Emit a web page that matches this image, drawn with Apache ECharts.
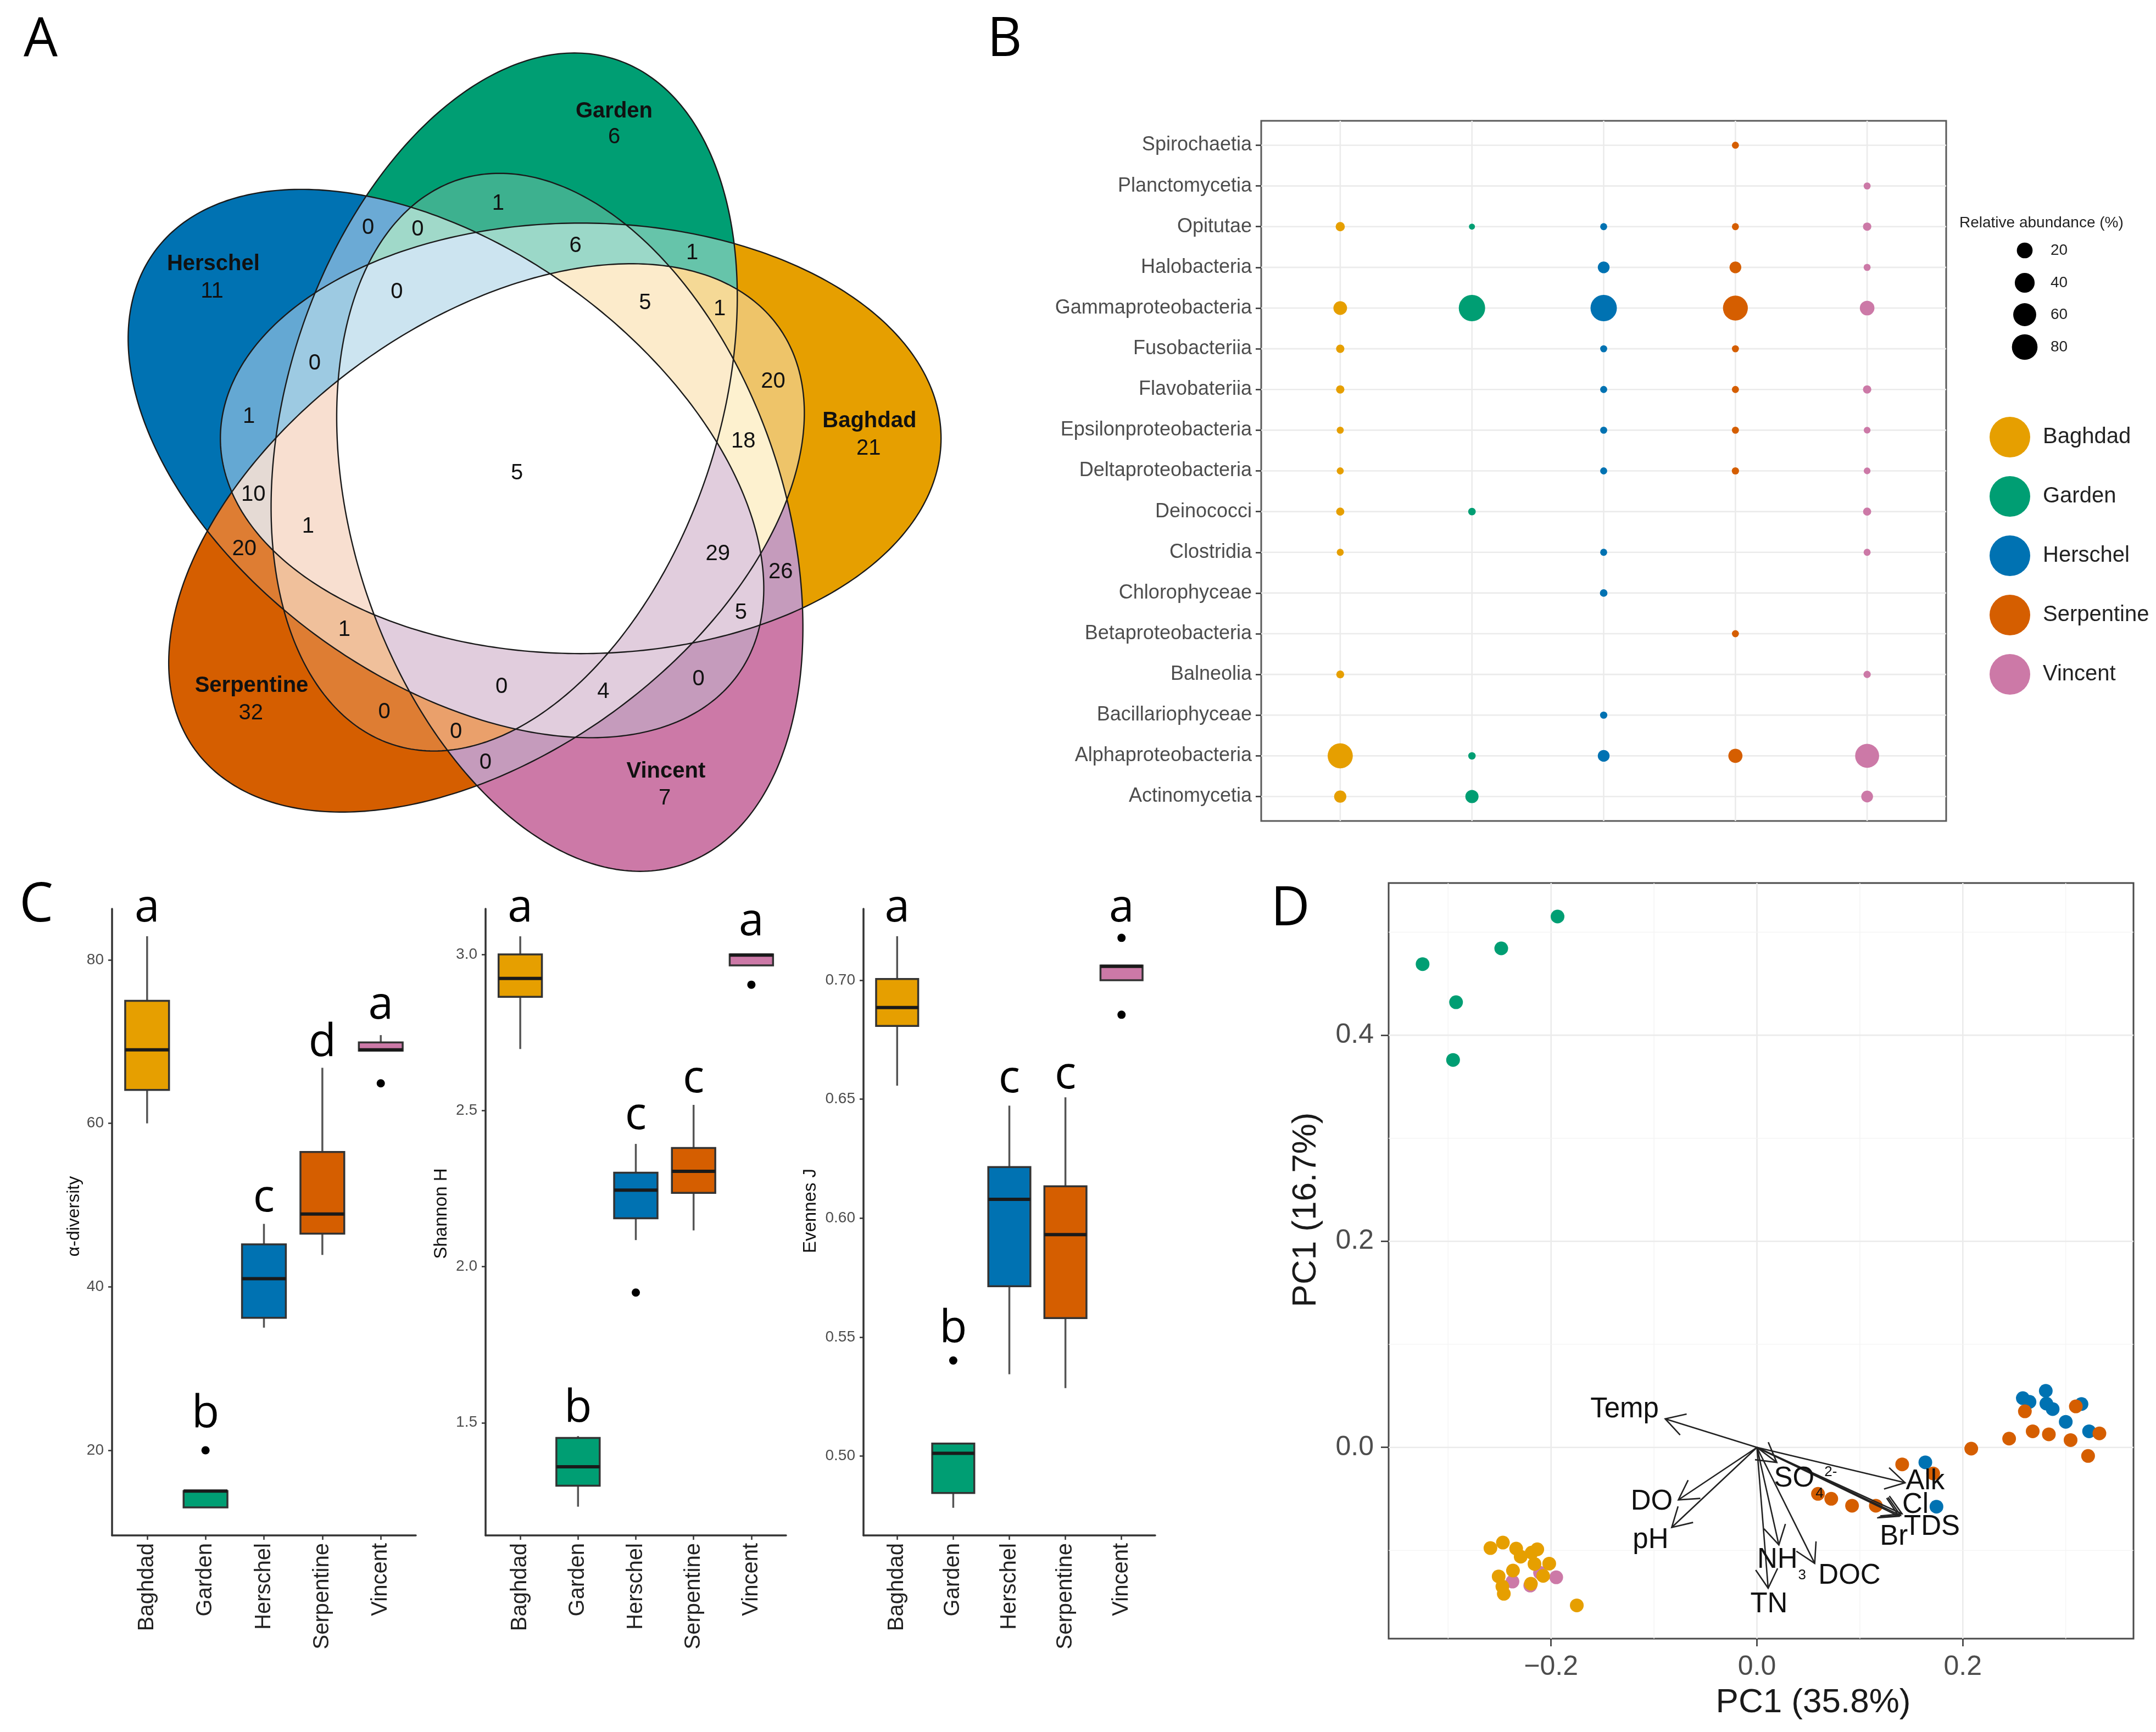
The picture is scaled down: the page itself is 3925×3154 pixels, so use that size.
<!DOCTYPE html>
<html>
<head>
<meta charset="utf-8">
<title>Microbial communities figure</title>
<script src="https://cdn.jsdelivr.net/npm/echarts@6.0.0/dist/echarts.min.js"></script>
<style>
html, body { margin: 0; padding: 0; background: #ffffff; }
#chart { width: 3925px; height: 3154px; }
</style>
</head>
<body>
<div id="chart"></div>
<script>
// ============================ DATA ============================
const sites = ['Baghdad', 'Garden', 'Herschel', 'Serpentine', 'Vincent'];

// ---- Panel A : five-set Venn diagram ----
const vennSets = ['Herschel', 'Garden', 'Baghdad', 'Serpentine', 'Vincent'];
// first the five single-set lobes (same order as vennSets), then the 26 overlap regions
const vennCounts = [11, 6, 21, 32, 7,
  0, 0, 1, 6, 1, 0, 5, 1, 0, 20, 1, 18, 5, 10, 1, 20, 29, 26, 5, 1, 0, 0, 4, 0, 0, 0];

// ---- Panel B : relative abundance (%) of classes (bottom -> top) ----
const taxClasses = ['Actinomycetia', 'Alphaproteobacteria', 'Bacillariophyceae', 'Balneolia',
  'Betaproteobacteria', 'Chlorophyceae', 'Clostridia', 'Deinococci', 'Deltaproteobacteria',
  'Epsilonproteobacteria', 'Flavobateriia', 'Fusobacteriia', 'Gammaproteobacteria',
  'Halobacteria', 'Opitutae', 'Planctomycetia', 'Spirochaetia'];
//                       Act   Alp   Bac   Bal   Bet   Chl   Clo   Dei   Del   Eps   Fla   Fus   Gam   Hal   Opi   Pla   Spi
const abundBaghdad    = [8.2,  76,   null, 1.0,  null, null, 0.5,  1.2,  0.5,  0.5,  1.4,  1.4,  12.3, null, 2.4,  null, null];
const abundGarden     = [10.9, 0.7,  null, null, null, null, null, 0.8,  null, null, null, null, 86,   null, 0.3,  null, null];
const abundHerschel   = [null, 7.1,  0.6,  null, null, 0.8,  0.5,  null, 0.5,  0.5,  0.5,  0.5,  86,   7.1,  0.5,  null, null];
const abundSerpentine = [null, 13.8, null, null, 0.5,  null, null, null, 0.6,  0.5,  0.5,  0.5,  74,   7.1,  0.5,  null, 0.5];
const abundVincent    = [7.1,  67,   null, 0.6,  null, null, 0.5,  1.2,  0.4,  0.4,  1.4,  null, 15.5, 0.5,  1.4,  0.5,  null];
const sizeLegendValues = [20, 40, 60, 80];

// ---- Panel C : alpha diversity boxplots [min, Q1, median, Q3, max] per site ----
const alphaBox = [[60.0, 64.1, 69.0, 75.0, 82.9], [13.0, 13.0, 15.0, 15.0, 15.0],
  [35.0, 36.2, 41.0, 45.2, 47.7], [43.9, 46.5, 48.9, 56.5, 66.8], [68.9, 68.9, 69.0, 69.9, 70.8]];
const alphaOutliers = [[2, 20.0], [5, 64.9]];
const alphaLetters = ['a', 'b', 'c', 'd', 'a'];
const alphaLetterY = [86.25, 24.4, 50.8, 69.8, 74.35];
const alphaTicks = [20, 40, 60, 80];

const shannonBox = [[2.697, 2.864, 2.923, 3.0, 3.058], [1.231, 1.298, 1.359, 1.451, 1.457],
  [2.085, 2.155, 2.245, 2.301, 2.393], [2.116, 2.236, 2.305, 2.380, 2.518], [2.965, 2.965, 2.998, 3.0, 3.0]];
const shannonOutliers = [[3, 1.917], [5, 2.903]];
const shannonLetters = ['a', 'b', 'c', 'c', 'a'];
const shannonLetterY = [3.146, 1.544, 2.482, 2.60, 3.102];
const shannonTicks = [1.5, 2.0, 2.5, 3.0];

const evenBox = [[0.6557, 0.6808, 0.6885, 0.7005, 0.7185], [0.4783, 0.4845, 0.5012, 0.5053, 0.5053],
  [0.5344, 0.5714, 0.6079, 0.6215, 0.6473], [0.5286, 0.558, 0.5931, 0.6134, 0.6508], [0.700, 0.700, 0.7058, 0.7062, 0.7062]];
const evenOutliers = [[2, 0.5402], [5, 0.7178], [5, 0.6855]];
const evenLetters = ['a', 'b', 'c', 'c', 'a'];
const evenLetterY = [0.730, 0.5533, 0.6584, 0.660, 0.730];
const evenTicks = [0.50, 0.55, 0.60, 0.65, 0.70];

// ---- Panel D : PCA scores ----
const pcaVincent = [[-0.2375, -0.1302], [-0.2202, -0.1341], [-0.2107, -0.1217], [-0.195, -0.1261]];
const pcaHerschel = [[0.2583, 0.0478], [0.2648, 0.0442], [0.2806, 0.0549], [0.2812, 0.0425], [0.2873, 0.0372],
  [0.300, 0.0248], [0.3153, 0.0421], [0.3227, 0.0156], [0.1636, -0.0145], [0.1744, -0.0575]];
const pcaGarden = [[-0.3248, 0.469], [-0.2923, 0.432], [-0.2952, 0.376], [-0.2484, 0.4843], [-0.1937, 0.5152]];
const pcaBaghdad = [[-0.2589, -0.0977], [-0.2468, -0.0924], [-0.2339, -0.0982], [-0.2295, -0.106], [-0.2188, -0.1021],
  [-0.2134, -0.0989], [-0.2161, -0.1131], [-0.2018, -0.1128], [-0.237, -0.1195], [-0.2509, -0.1252],
  [-0.2473, -0.135], [-0.2459, -0.1421], [-0.2196, -0.1323], [-0.2077, -0.1247], [-0.175, -0.1533]];
const pcaSerpentine = [[0.2603, 0.035], [0.3098, 0.0398], [0.2679, 0.0156], [0.2836, 0.0127], [0.245, 0.0085],
  [0.3047, 0.0071], [0.3327, 0.0136], [0.3217, -0.0083], [0.2082, -0.0012], [0.1411, -0.0165],
  [0.1712, -0.0253], [0.0593, -0.0451], [0.0722, -0.0499], [0.0924, -0.0566], [0.1155, -0.0566]];
// environmental vectors (arrow tips)
const envLabels = ['Temp', 'DO', 'pH', 'NH', 'TN', 'DOC', 'SO', 'Alk', 'Cl', 'TDS', 'Br'];
const envTipX = [-0.0891, -0.0763, -0.0828, 0.0213, 0.0109, 0.0561, 0.0193, 0.1439, 0.141, 0.1395, 0.138];
const envTipY = [0.0277, -0.0509, -0.0777, -0.0946, -0.1366, -0.1125, -0.0146, -0.0343, -0.0645, -0.066, -0.0668];
const envScripts = ['3', '4', '2-'];
const pcaXTicks = [-0.2, 0.0, 0.2];
const pcaYTicks = [0.0, 0.2, 0.4];
const pcaMinorX = [-0.3, -0.1, 0.1, 0.3];
const pcaMinorY = [-0.1, 0.1, 0.3, 0.5];

// ============================ LAYOUT & STYLE ============================
const FONT = '"Liberation Sans", Arial, Helvetica, sans-serif';
const FONT_LETTER = '"Open Sans", "Liberation Sans", sans-serif';
const siteColor = { Baghdad: '#E69F00', Garden: '#009E73', Herschel: '#0072B2', Serpentine: '#D55E00', Vincent: '#CC79A7' };

// Venn geometry (data units of the hidden Venn axes)
const VENN_GEOM = { dist: 0.164, semiMajor: 0.82, semiMinor: 0.49, centreOffsetDeg: 28.6,
  rotationDeg: [144, 72, 0, 216, 288], polyPoints: 360 };
const vennLabelU = [-0.695, 0.22, 0.799, -0.6065, 0.335, -0.340, -0.227, -0.044, 0.132, 0.3975, -0.2745, 0.2905,
  0.460, -0.4615, 0.582, -0.611, 0.514, -0.001, -0.601, -0.4765, -0.6215, 0.456, 0.599, 0.5086, -0.394,
  0.412, -0.036, 0.1956, -0.303, -0.140, -0.0726];
const vennLabelV = [0.413, 0.764, 0.0555, -0.547, -0.741, 0.558, 0.554, 0.613, 0.516, 0.500, 0.411, 0.386,
  0.373, 0.249, 0.208, 0.128, 0.0716, -0.0015, -0.05, -0.122, -0.174, -0.1845, -0.2265, -0.319, -0.357,
  -0.4698, -0.488, -0.499, -0.545, -0.590, -0.660];
const vennNameU = [-0.692, 0.22, 0.801, -0.605, 0.338];
const vennNameV = [0.475, 0.822, 0.117, -0.485, -0.680];
const vennRegionFill = ['#0072B2', '#009E73', '#E69F00', '#D55E00', '#CC79A7',
  '#6BAAD5', '#A0D9C9', '#3DB18F', '#9BD8C8', '#66C4AA', '#CCE4F0', '#FCEBCB', '#F5D996', '#9DCAE2',
  '#EEC469', '#64A8D3', '#FDF1CF', '#FFFFFF', '#E5DAD4', '#F8DFD0', '#DE7D33', '#E1CDDD', '#C59BBC',
  '#E1CDDD', '#F0C09B', '#C59BBC', '#E1CDDD', '#E1CDDD', '#DE7D33', '#EAA06B', '#C59BBC'];

// Panel D label positions (data units)
const envLabelX = [-0.1286, -0.1022, -0.1033, 0.0199, 0.0117, 0.0899, 0.0362, 0.1635, 0.154, 0.170, 0.133];
const envLabelY = [0.0366, -0.0527, -0.0902, -0.1095, -0.1527, -0.125, -0.0304, -0.033, -0.0559, -0.0773, -0.0871];
const envScriptX = [0.0439, 0.0608, 0.0717];
const envScriptY = [-0.1241, -0.0446, -0.0241];

const B_RANGE_X = [0.4, 5.6], B_RANGE_Y = [0.4, 17.6];
const ALPHA_RANGE = [9.58, 86.25], SHANNON_RANGE = [1.139, 3.146], EVEN_RANGE = [0.4667, 0.730];
const PCA_RANGE_X = [-0.3578, 0.3658], PCA_RANGE_Y = [-0.1856, 0.5477];
const BOX_WIDTH = 0.75;
const SIZE_MIN_PX = 11, SIZE_SPAN_PX = 37, SIZE_VMIN = 0.3, SIZE_VMAX = 86;
const abundanceSize = v => SIZE_MIN_PX + SIZE_SPAN_PX * Math.sqrt(Math.max(0, v - SIZE_VMIN) / (SIZE_VMAX - SIZE_VMIN));

const siteTicks = [1, 2, 3, 4, 5];
const classTicks = taxClasses.map((c, i) => i + 1);

// ============================ VENN GEOMETRY ============================
function vennEllipse(k) {
  const rot = VENN_GEOM.rotationDeg[k];
  const ca = (rot + VENN_GEOM.centreOffsetDeg) * Math.PI / 180;
  return { cx: VENN_GEOM.dist * Math.cos(ca), cy: VENN_GEOM.dist * Math.sin(ca),
    phi: rot * Math.PI / 180, A: VENN_GEOM.semiMajor, B: VENN_GEOM.semiMinor };
}
const ellipses = vennSets.map((s, k) => vennEllipse(k));
function inEllipse(e, u, v) {
  const dx = u - e.cx, dy = v - e.cy;
  const a = dx * Math.cos(e.phi) + dy * Math.sin(e.phi);
  const b = -dx * Math.sin(e.phi) + dy * Math.cos(e.phi);
  return (a * a) / (e.A * e.A) + (b * b) / (e.B * e.B) <= 1;
}
function ellipsePolygon(e) {
  const pts = [], n = VENN_GEOM.polyPoints;
  for (let i = 0; i < n; i++) {
    const t = 2 * Math.PI * i / n;
    const x = e.A * Math.cos(t), y = e.B * Math.sin(t);
    pts.push([e.cx + x * Math.cos(e.phi) - y * Math.sin(e.phi), e.cy + x * Math.sin(e.phi) + y * Math.cos(e.phi)]);
  }
  return pts;
}
const ellipsePolys = ellipses.map(ellipsePolygon);
function clipConvex(subject, clipper) {
  let out = subject;
  const n = clipper.length;
  for (let i = 0; i < n && out.length; i++) {
    const a = clipper[i], b = clipper[(i + 1) % n];
    const side = p => (b[0] - a[0]) * (p[1] - a[1]) - (b[1] - a[1]) * (p[0] - a[0]);
    const inp = out; out = [];
    for (let j = 0; j < inp.length; j++) {
      const cur = inp[j], prev = inp[(j + inp.length - 1) % inp.length];
      const sc = side(cur), sp = side(prev);
      if (sc >= 0) {
        if (sp < 0) { const t = sp / (sp - sc); out.push([prev[0] + t * (cur[0] - prev[0]), prev[1] + t * (cur[1] - prev[1])]); }
        out.push(cur);
      } else if (sp >= 0) {
        const t = sp / (sp - sc); out.push([prev[0] + t * (cur[0] - prev[0]), prev[1] + t * (cur[1] - prev[1])]);
      }
    }
  }
  return out;
}
const regionMembers = vennCounts.map((c, r) =>
  ellipses.map((e, k) => inEllipse(e, vennLabelU[r], vennLabelV[r]) ? k : -1).filter(k => k >= 0));
const regionPolys = regionMembers.map(m => {
  if (!m.length) return [];
  let poly = ellipsePolys[m[0]];
  for (let i = 1; i < m.length; i++) poly = clipConvex(poly, ellipsePolys[m[i]]);
  return poly;
});
const regionOrder = vennCounts.map((c, r) => r).sort((a, b) => regionMembers[a].length - regionMembers[b].length);

// ============================ HELPERS ============================
const fmtMinus = d => v => (v < 0 ? '\u2212' : '') + Math.abs(v).toFixed(d);

function gridLineSeries(xi, xr, yr, data, majorColor, minorColor) {
  return {
    type: 'custom', xAxisIndex: xi, yAxisIndex: xi, z: 1, silent: true, data,
    renderItem: (params, api) => {
      const v = api.value(0), t = api.value(1);
      const vertical = t < 2, major = t % 2 === 0;
      const p1 = vertical ? api.coord([v, yr[0]]) : api.coord([xr[0], v]);
      const p2 = vertical ? api.coord([v, yr[1]]) : api.coord([xr[1], v]);
      return { type: 'line', shape: { x1: p1[0], y1: p1[1], x2: p2[0], y2: p2[1] },
        style: { stroke: major ? majorColor : minorColor, lineWidth: major ? 2.6 : 1.4 } };
    }
  };
}

function boxXAxis(gi) {
  return { gridIndex: gi, type: 'value', min: B_RANGE_X[0], max: B_RANGE_X[1],
    axisLine: { show: true, onZero: false, lineStyle: { color: '#333', width: 3.5 } },
    axisTick: { show: true, customValues: siteTicks, length: 8, lineStyle: { color: '#333', width: 2.5 } },
    axisLabel: { show: true, customValues: siteTicks, rotate: 90, margin: 14, fontSize: 40, color: '#222',
      fontFamily: FONT, formatter: v => sites[Math.round(v) - 1] },
    splitLine: { show: false } };
}
function boxYAxis(gi, range, ticks, digits) {
  return { gridIndex: gi, type: 'value', min: range[0], max: range[1],
    axisLine: { show: true, onZero: false, lineStyle: { color: '#333', width: 3.5 } },
    axisTick: { show: true, customValues: ticks, length: 7, lineStyle: { color: '#333', width: 2.5 } },
    axisLabel: { show: true, customValues: ticks, margin: 15, fontSize: 28, color: '#4d4d4d', fontFamily: FONT,
      formatter: v => v.toFixed(digits) },
    splitLine: { show: false } };
}
function boxSeries(gi, stats) {
  return {
    type: 'custom', xAxisIndex: gi, yAxisIndex: gi, z: 3, silent: true,
    data: stats.map((s, i) => [i + 1].concat(s)),
    encode: { x: 0, y: [1, 2, 3, 4, 5] },
    renderItem: (params, api) => {
      const x = api.value(0);
      const mn = api.value(1), q1 = api.value(2), md = api.value(3), q3 = api.value(4), mx = api.value(5);
      const hw = api.size([BOX_WIDTH, 0])[0] / 2;
      const c = v => api.coord([x, v]);
      const pMin = c(mn), pQ1 = c(q1), pMed = c(md), pQ3 = c(q3), pMax = c(mx);
      const col = siteColor[sites[params.dataIndex]];
      return { type: 'group', children: [
        { type: 'line', shape: { x1: pQ3[0], y1: pQ3[1], x2: pMax[0], y2: pMax[1] }, style: { stroke: '#555', lineWidth: 3.5 } },
        { type: 'line', shape: { x1: pMin[0], y1: pMin[1], x2: pQ1[0], y2: pQ1[1] }, style: { stroke: '#555', lineWidth: 3.5 } },
        { type: 'rect', shape: { x: pQ1[0] - hw, y: pQ3[1], width: 2 * hw, height: Math.max(1, pQ1[1] - pQ3[1]) },
          style: { fill: col, stroke: '#333', lineWidth: 3.5 } },
        { type: 'line', shape: { x1: pMed[0] - hw, y1: pMed[1], x2: pMed[0] + hw, y2: pMed[1] }, style: { stroke: '#1a1a1a', lineWidth: 6 } }
      ] };
    }
  };
}
function outlierSeries(gi, pts) {
  return { type: 'scatter', xAxisIndex: gi, yAxisIndex: gi, z: 4, silent: true, data: pts,
    symbolSize: 15, itemStyle: { color: '#000', opacity: 1 } };
}
function letterSeries(gi, letters, ys) {
  return { type: 'custom', xAxisIndex: gi, yAxisIndex: gi, z: 5, silent: true,
    data: letters.map((l, i) => [i + 1, ys[i]]),
    renderItem: (params, api) => {
      const p = api.coord([api.value(0), api.value(1)]);
      return { type: 'text', x: p[0], y: p[1], style: { text: letters[params.dataIndex], fontSize: 82,
        fontFamily: FONT_LETTER, fill: '#000', align: 'center', verticalAlign: 'middle' } };
    } };
}
function textSeries(gi, xs, ys, texts, fontSize, weight, z) {
  return { type: 'custom', xAxisIndex: gi, yAxisIndex: gi, z: z || 6, silent: true,
    data: xs.map((x, i) => [x, ys[i]]),
    renderItem: (params, api) => {
      const p = api.coord([api.value(0), api.value(1)]);
      return { type: 'text', x: p[0], y: p[1], style: { text: String(texts[params.dataIndex]), fontSize,
        fontWeight: weight, fontFamily: FONT, fill: '#111', align: 'center', verticalAlign: 'middle' } };
    } };
}

// ============================ OPTION ============================
const abundBySite = [abundBaghdad, abundGarden, abundHerschel, abundSerpentine, abundVincent];
const pcaSeriesOrder = [['Vincent', pcaVincent], ['Herschel', pcaHerschel], ['Garden', pcaGarden],
  ['Baghdad', pcaBaghdad], ['Serpentine', pcaSerpentine]];

const bGridData = siteTicks.map(v => [v, 0]).concat(classTicks.map(v => [v, 2]));
const dGridData = pcaXTicks.map(v => [v, 0]).concat(pcaMinorX.map(v => [v, 1]),
  pcaYTicks.map(v => [v, 2]), pcaMinorY.map(v => [v, 3]));

const sizeLegendY = [456, 515, 573, 632];
const graphicEls = [
  { type: 'text', x: 74, y: 74, style: { text: 'A', fontSize: 98, fontFamily: FONT_LETTER, fill: '#000', align: 'center', verticalAlign: 'middle' } },
  { type: 'text', x: 1829, y: 74, style: { text: 'B', fontSize: 98, fontFamily: FONT_LETTER, fill: '#000', align: 'center', verticalAlign: 'middle' } },
  { type: 'text', x: 66, y: 1650, style: { text: 'C', fontSize: 98, fontFamily: FONT_LETTER, fill: '#000', align: 'center', verticalAlign: 'middle' } },
  { type: 'text', x: 2349, y: 1657, style: { text: 'D', fontSize: 98, fontFamily: FONT_LETTER, fill: '#000', align: 'center', verticalAlign: 'middle' } },
  { type: 'text', x: 135, y: 2215, rotation: Math.PI / 2, style: { text: '\u03b1-diversity', fontSize: 32, fontFamily: FONT, fill: '#111', align: 'center', verticalAlign: 'middle' } },
  { type: 'text', x: 804, y: 2210, rotation: Math.PI / 2, style: { text: 'Shannon H', fontSize: 33, fontFamily: FONT, fill: '#111', align: 'center', verticalAlign: 'middle' } },
  { type: 'text', x: 1476, y: 2205, rotation: Math.PI / 2, style: { text: 'Evennes J', fontSize: 33, fontFamily: FONT, fill: '#111', align: 'center', verticalAlign: 'middle' } },
  { type: 'text', x: 3301, y: 3101, style: { text: 'PC1 (35.8%)', fontSize: 62, fontFamily: FONT, fill: '#1a1a1a', align: 'center', verticalAlign: 'middle' } },
  { type: 'text', x: 2378, y: 2203, rotation: Math.PI / 2, style: { text: 'PC1 (16.7%)', fontSize: 62, fontFamily: FONT, fill: '#1a1a1a', align: 'center', verticalAlign: 'middle' } },
  { type: 'text', x: 3567, y: 406, style: { text: 'Relative abundance (%)', fontSize: 28, fontFamily: FONT, fill: '#222', align: 'left', verticalAlign: 'middle' } }
];
sizeLegendValues.forEach((v, i) => {
  graphicEls.push({ type: 'circle', shape: { cx: 3686, cy: sizeLegendY[i], r: abundanceSize(v) / 2 }, style: { fill: '#000' } });
  graphicEls.push({ type: 'text', x: 3733, y: sizeLegendY[i], style: { text: String(v), fontSize: 28, fontFamily: FONT, fill: '#222', align: 'left', verticalAlign: 'middle' } });
});

const series = [];
// ---- A ----
series.push({
  type: 'custom', xAxisIndex: 0, yAxisIndex: 0, z: 2, silent: true,
  data: regionOrder.map(r => [r, 0]),
  renderItem: (params, api) => {
    const r = api.value(0);
    const pts = regionPolys[r].map(p => api.coord(p));
    return { type: 'polygon', shape: { points: pts }, style: { fill: vennRegionFill[r], stroke: vennRegionFill[r], lineWidth: 0.6 } };
  }
});
series.push({
  type: 'custom', xAxisIndex: 0, yAxisIndex: 0, z: 3, silent: true,
  data: vennSets.map((s, k) => [k, 0]),
  renderItem: (params, api) => {
    const pts = ellipsePolys[api.value(0)].map(p => api.coord(p));
    return { type: 'polygon', shape: { points: pts }, style: { fill: 'none', stroke: '#1a1a1a', lineWidth: 2.4 } };
  }
});
series.push(textSeries(0, vennLabelU, vennLabelV, vennCounts, 40, 'normal', 4));
series.push(textSeries(0, vennNameU, vennNameV, vennSets, 40, 'bold', 4));

// ---- B ----
series.push(gridLineSeries(1, B_RANGE_X, B_RANGE_Y, bGridData, '#ebebeb', '#f3f3f3'));
sites.forEach((s, si) => {
  series.push({
    type: 'scatter', name: s, xAxisIndex: 1, yAxisIndex: 1, z: 3, silent: true,
    data: abundBySite[si].map((v, ci) => v == null ? null : [si + 1, ci + 1, v]).filter(d => d),
    symbolSize: d => abundanceSize(d[2]),
    itemStyle: { color: siteColor[s], opacity: 1 }
  });
});

// ---- C ----
series.push(boxSeries(2, alphaBox), outlierSeries(2, alphaOutliers), letterSeries(2, alphaLetters, alphaLetterY));
series.push(boxSeries(3, shannonBox), outlierSeries(3, shannonOutliers), letterSeries(3, shannonLetters, shannonLetterY));
series.push(boxSeries(4, evenBox), outlierSeries(4, evenOutliers), letterSeries(4, evenLetters, evenLetterY));

// ---- D ----
series.push(gridLineSeries(5, PCA_RANGE_X, PCA_RANGE_Y, dGridData, '#ebebeb', '#f4f4f4'));
pcaSeriesOrder.forEach(([s, pts]) => {
  series.push({ type: 'scatter', name: s + ' PCA', xAxisIndex: 5, yAxisIndex: 5, z: 3, silent: true, data: pts,
    symbolSize: 25, itemStyle: { color: siteColor[s], opacity: 1 } });
});
series.push({
  type: 'custom', xAxisIndex: 5, yAxisIndex: 5, z: 5, silent: true,
  data: envTipX.map((x, i) => [x, envTipY[i]]),
  renderItem: (params, api) => {
    const p0 = api.coord([0, 0]);
    const p1 = api.coord([api.value(0), api.value(1)]);
    const ang = Math.atan2(p1[1] - p0[1], p1[0] - p0[0]);
    const L = 40, w = Math.PI / 6;
    const b1 = [p1[0] - L * Math.cos(ang - w), p1[1] - L * Math.sin(ang - w)];
    const b2 = [p1[0] - L * Math.cos(ang + w), p1[1] - L * Math.sin(ang + w)];
    return { type: 'group', children: [
      { type: 'line', shape: { x1: p0[0], y1: p0[1], x2: p1[0], y2: p1[1] }, style: { stroke: '#222', lineWidth: 2.6 } },
      { type: 'polyline', shape: { points: [b1, p1, b2] }, style: { stroke: '#222', lineWidth: 2.6, fill: 'none' } }
    ] };
  }
});
series.push(textSeries(5, envLabelX, envLabelY, envLabels, 51, 'normal', 6));
series.push(textSeries(5, envScriptX, envScriptY, envScripts, 26, 'normal', 6));

const option = {
  animation: false,
  backgroundColor: '#ffffff',
  textStyle: { fontFamily: FONT },
  grid: [
    { left: 142, top: 61, width: 1600, height: 1600, show: false },
    { left: 2296, top: 220, width: 1247, height: 1275, show: true, borderColor: '#5a5a5a', borderWidth: 3, backgroundColor: 'transparent' },
    { left: 204, top: 1655, width: 553, height: 1141 },
    { left: 884, top: 1655, width: 547, height: 1141 },
    { left: 1572, top: 1655, width: 531, height: 1141 },
    { left: 2528, top: 1608, width: 1356, height: 1376, show: true, borderColor: '#4a4a4a', borderWidth: 3, backgroundColor: 'transparent' }
  ],
  xAxis: [
    { gridIndex: 0, type: 'value', min: -1, max: 1, show: false },
    { gridIndex: 1, type: 'value', min: B_RANGE_X[0], max: B_RANGE_X[1], show: false, splitLine: { show: false } },
    boxXAxis(2), boxXAxis(3), boxXAxis(4),
    { gridIndex: 5, type: 'value', min: PCA_RANGE_X[0], max: PCA_RANGE_X[1],
      axisLine: { show: false, onZero: false },
      axisTick: { show: true, customValues: pcaXTicks, length: 14, lineStyle: { color: '#333', width: 2.5 } },
      axisLabel: { show: true, customValues: pcaXTicks, margin: 27, fontSize: 50, color: '#4d4d4d', fontFamily: FONT, formatter: fmtMinus(1) },
      splitLine: { show: false } }
  ],
  yAxis: [
    { gridIndex: 0, type: 'value', min: -1, max: 1, show: false },
    { gridIndex: 1, type: 'value', min: B_RANGE_Y[0], max: B_RANGE_Y[1],
      axisLine: { show: false, onZero: false },
      axisTick: { show: true, customValues: classTicks, length: 10, lineStyle: { color: '#333', width: 2.5 } },
      axisLabel: { show: true, customValues: classTicks, margin: 17, fontSize: 36, color: '#4d4d4d', fontFamily: FONT,
        formatter: v => taxClasses[Math.round(v) - 1] },
      splitLine: { show: false } },
    boxYAxis(2, ALPHA_RANGE, alphaTicks, 0),
    boxYAxis(3, SHANNON_RANGE, shannonTicks, 1),
    boxYAxis(4, EVEN_RANGE, evenTicks, 2),
    { gridIndex: 5, type: 'value', min: PCA_RANGE_Y[0], max: PCA_RANGE_Y[1],
      axisLine: { show: false, onZero: false },
      axisTick: { show: true, customValues: pcaYTicks, length: 14, lineStyle: { color: '#333', width: 2.5 } },
      axisLabel: { show: true, customValues: pcaYTicks, margin: 27, fontSize: 50, color: '#4d4d4d', fontFamily: FONT, formatter: fmtMinus(1) },
      splitLine: { show: false } }
  ],
  legend: {
    data: sites.map(s => ({ name: s, icon: 'circle' })),
    orient: 'vertical', left: 3617, top: 754, itemWidth: 74, itemHeight: 74, itemGap: 34,
    selectedMode: false,
    textStyle: { fontSize: 40, color: '#222', fontFamily: FONT, padding: [0, 0, 0, 18] }
  },
  graphic: { elements: graphicEls },
  series
};

const chart = echarts.init(document.getElementById('chart'), null, { renderer: 'canvas', width: 3925, height: 3154 });
chart.setOption(option);
</script>
</body>
</html>
